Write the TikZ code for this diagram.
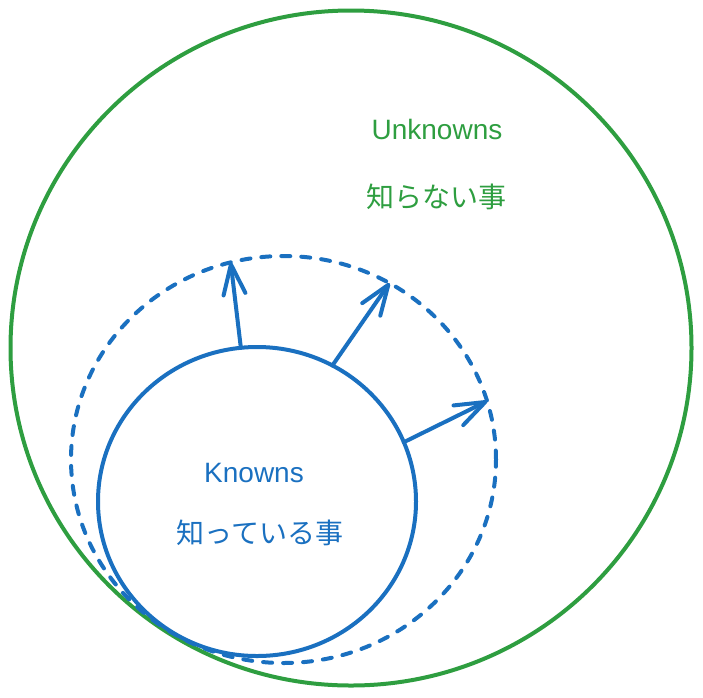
\documentclass[tikz,border=0pt]{standalone}
\usepackage{fontspec}
\setmainfont{Liberation Sans}
\newfontfamily\jpfont{Noto Sans CJK JP}
\usetikzlibrary{shapes.geometric,arrows.meta}
\definecolor{ugreen}{RGB}{46,158,64}
\definecolor{kblue}{RGB}{26,112,192}
\tikzset{
  ring/.style={ellipse, inner sep=0pt, outer sep=0pt, line width=4pt},
  lbl/.style={font=\fontsize{28}{30}\selectfont, inner sep=0pt},
  jlbl/.style={font=\fontsize{28}{30}\selectfont\jpfont, inner sep=0pt},
  growarrow/.style={draw=kblue, line width=4pt, line cap=round,
    -{Straight Barb[length=30pt,width=22pt,line width=4pt,line cap=round,line join=round]}}
}
\begin{document}
\begin{tikzpicture}[x=1pt,y=-1pt]
\useasboundingbox (0,0) rectangle (703,697);
\node[ring, draw=ugreen, minimum width=681pt, minimum height=675pt] (unk) at (351,348) {};
\node[ring, draw=kblue, dash pattern=on 9pt off 11pt, line cap=round, minimum width=425pt, minimum height=407pt] (edge) at (283.5,459.5) {};
\node[ring, draw=kblue, minimum width=318pt, minimum height=309pt] (kn) at (257,501.5) {};
\node[lbl, text=ugreen, anchor=base] (ut) at (437,139) {Unknowns};
\node[jlbl, text=ugreen] (uj) at (436,197) {知らない事};
\node[lbl, text=kblue, anchor=base] (kt) at (254,482) {Knowns};
\node[jlbl, text=kblue] (kj) at (260,533) {知っている事};
\draw[growarrow] (kn.96.6) -- (edge.105.8);
\draw[growarrow] (kn.61.2) -- (edge.59.4);
\draw[growarrow] (kn.22.9) -- (edge.16.3);
\end{tikzpicture}
\end{document}
